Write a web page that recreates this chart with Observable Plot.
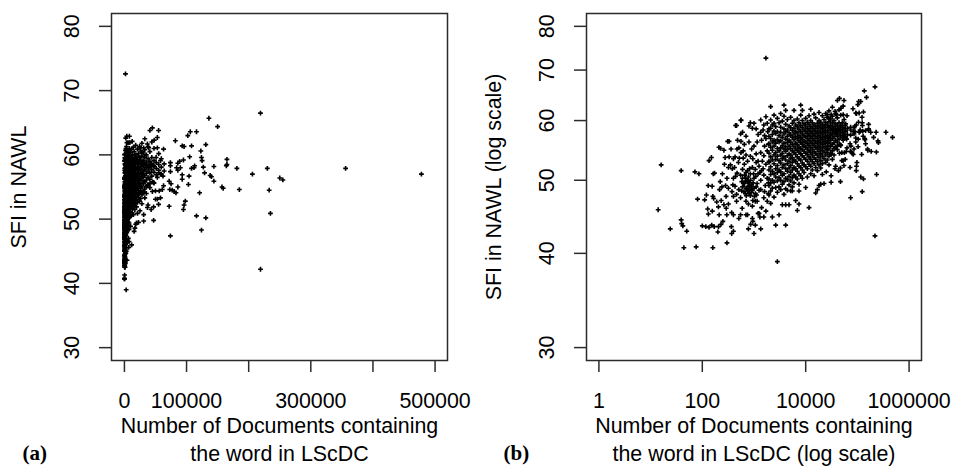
<!DOCTYPE html>
<html><head><meta charset="utf-8">
<script src="https://cdn.jsdelivr.net/npm/d3@7"></script>
<script src="https://cdn.jsdelivr.net/npm/@observablehq/plot@0.6"></script>
<style>
body{margin:0;background:#fff;}
#wrap{position:relative;width:953px;height:466px;overflow:hidden;background:#fff;}
#wrap svg{position:absolute;top:0;}
</style></head><body><div id="wrap"></div>
<script>
// ---- tick values and labels ----
const linTicks = [0, 100000, 200000, 300000, 400000, 500000];
const linLabels = [0, 100000, 300000, 500000];
const logTicks = [1, 100, 10000, 1000000];
const sfiTicks = [30, 40, 50, 60, 70, 80];
const xTitle = ["Number of Documents containing", "the word in LScDC"];
const xTitleLog = ["Number of Documents containing", "the word in LScDC (log scale)"];
const yTitle = "SFI in NAWL";
const yTitleLog = "SFI in NAWL (log scale)";

// ---- words: [documents in LScDC, SFI in NAWL] ----
const sparseWords = [[16,52.4],[14,45.7],[24,43.1],[39,51.5],[39,44.3],[40,43.8],[42,43.5],[50,42.8],[44,40.7],[72,51.3],[76,40.8],[86,51.0],[81,47.2],[111,47.1],[160,40.7],[300,41.3],[135,53.1],[150,53.6],[163,51.0],[172,51.1],[130,49.2],[160,47.6],[166,47.3],[127,45.8],[131,45.1],[156,45.5],[100,43.5],[117,43.4],[135,43.3],[152,43.6],[170,43.4],[200,42.7],[212,45.0],[250,44.1],[206,43.4],[230,43.7],[298,45.0],[205,46.1],[262,46.4],[290,45.9],[216,48.6],[282,49.2],[222,49.8],[155,49.1],[232,47.0],[288,47.6],[225,55.1],[262,54.8],[276,53.6],[245,51.0],[268,52.5],[210,55.3],[240,49.0],[190,46.8],[120,47.8]];

const midWords = [[300,50.3],[320,52.0],[310,56.3],[330,53.7],[330,56.3],[320,48.8],[375,48.3],[390,49.3],[370,45.3],[400,45.0],[320,46.5],[400,47.6],[460,47.9],[550,47.4],[700,46.9],[780,46.5],[950,47.0],[365,43.4],[400,42.8],[370,42.5],[510,44.5],[550,45.0],[780,43.1],[1000,42.5],[1350,43.1],[1060,43.6],[860,43.7],[950,44.1],[1300,44.7],[1550,44.7],[750,45.0],[930,44.5],[1250,45.2],[460,46.9],[590,45.9],[700,45.0],[440,59.1],[560,60.0],[550,57.6],[600,57.9],[400,53.4],[430,53.7],[560,54.4],[620,54.7],[470,55.0],[510,55.2],[400,50.3],[440,50.6],[470,51.1],[550,50.8],[600,50.3],[430,49.1],[510,48.6],[580,48.4],[700,48.8],[800,48.0],[850,47.7],[680,50.3],[750,49.8],[800,49.6],[930,46.2],[1060,46.9],[1150,46.9],[1550,47.4],[1800,46.9],[1060,48.0],[1350,48.6],[1600,48.3],[1900,48.0],[1000,50.3],[1150,49.5],[1350,50.0],[1550,50.8],[1800,50.3],[930,52.0],[1060,51.7],[1250,52.2],[1450,53.0],[1700,52.5],[1950,53.0],[750,53.0],[850,53.8],[950,53.4],[1350,54.4],[1550,53.9],[1800,54.7],[800,56.2],[1000,55.5],[1150,56.2],[1350,57.9],[1600,57.3],[1850,58.0],[800,59.0],[930,58.6],[1000,59.5],[1350,60.1],[1550,59.2],[1800,59.5],[1700,60.7],[460,59.1],[850,59.6],[560,60.1],[480,56.5],[560,56.3],[700,57.2],[360,55.0],[420,52.0],[500,52.8],[600,51.7],[650,52.5],[700,54.0],[650,55.8],[900,55.0],[1100,54.2],[1200,53.0],[750,51.5],[850,51.0],[900,49.3],[1250,48.5],[1100,52.8],[1300,51.2],[1500,51.8],[1650,49.2],[1900,49.6],[1400,46.0],[1700,45.5],[1200,45.2],[620,49.5],[680,48.0],[520,53.5],[620,53.5],[380,51.8],[350,52.4],[650,49.5],[720,48.7],[760,48.4],[820,49.2],[880,49.0],[920,48.5],[740,50.0],[780,50.5],[900,48.2],[1000,48.8],[1100,49.0],[1200,51.0],[1400,51.5],[1600,55.5],[1400,56.5],[1200,57.5],[1700,56.8],[1900,55.8],[1100,58.5],[1500,58.3],
[600,49.0],[640,48.3],[690,49.9],[710,47.7],[770,49.1],[830,48.6],[860,50.0],[960,49.6],[1020,47.6],[660,50.8],[580,49.8],[980,51.0],[1080,50.6],[1120,47.8],[820,51.8],[700,51.2]];

// columns of the dense core: [documents, [SFI values]]
const coreColumns = [
[1950,[58.5,57.2,55.9,54.3,52.8,51.6,50.2,49.2,47.8]],
[2100,[62.6,60.1,58.6,56.8,55.3,53.7,52.1,50.9,49.6,48.4,46.6]],
[2260,[59.2,57.5,56.2,54.8,53.2,51.4,50.0,48.8,44.7]],
[2440,[61.0,59.5,58.1,56.5,55.5,54.0,52.6,51.0,49.7,47.5]],
[2630,[58.9,57.7,56.0,54.4,53.3,51.8,50.5,48.9,43.6]],
[2830,[60.4,58.0,56.6,55.1,53.8,52.3,51.2,49.9,48.2,39.0]],
[3050,[59.6,57.3,56.2,54.7,53.1,51.6,50.4,49.0,45.0]],
[3280,[61.3,58.8,57.9,56.4,55.2,54.0,52.7,51.3,50.0,48.6]],
[3530,[59.9,57.0,55.6,54.3,53.4,52.0,50.8,49.4,46.4]],
[3800,[62.9,60.8,58.5,57.6,56.0,55.0,53.7,52.4,51.0,49.8,47.9]],
[4100,[61.9,59.3,58.0,56.7,55.4,54.6,53.2,51.8,50.3,48.7,46.4,43.6]],
[4420,[60.2,58.3,57.2,56.1,54.9,53.9,52.6,51.4,50.1,48.5]],
[4760,[59.0,57.8,56.5,55.5,54.2,53.0,51.9,50.6,49.3,46.4]],
[5120,[60.6,58.7,57.4,56.2,55.1,54.0,53.5,52.3,51.2,49.9,48.4]],
[5520,[59.5,58.2,57.0,55.8,54.7,53.6,52.8,51.6,50.4,49.0,48.4]],
[5940,[61.9,60.0,58.6,57.6,56.6,55.4,54.4,53.2,52.0,50.8,49.6]],
[6400,[59.2,58.0,57.1,56.0,55.0,54.1,53.0,51.8,50.5,47.0]],
[6890,[60.3,58.9,57.8,56.8,55.7,54.8,53.7,52.6,51.4,50.2,45.6]],
[7420,[59.6,58.4,57.3,56.4,55.3,54.5,53.4,52.2,51.0,49.4,48.4,46.5]],
[8000,[62.9,61.0,59.1,58.0,57.0,56.1,55.1,54.2,53.2,52.0,50.7]],
[8610,[61.9,60.0,58.7,57.6,56.7,55.8,54.9,53.9,52.7,51.6,50.3]],
[9280,[59.4,58.3,57.3,56.3,55.5,54.6,53.6,52.4,51.2]],
[10000,[60.4,59.0,58.0,57.1,56.2,55.3,54.3,53.3,52.1,48.9]],
[10770,[59.7,58.6,57.7,56.8,55.9,55.0,54.1,53.0,51.8,50.5]],
[11600,[60.9,59.3,58.3,57.4,56.5,55.6,54.7,53.7,52.5,46.0]],
[12490,[62.1,60.0,58.9,58.0,57.1,56.2,55.3,54.4,53.3,52.2,51.0]],
[13450,[59.6,58.6,57.7,56.8,55.9,55.0,54.0,52.9,51.6]],
[14490,[61.2,59.2,58.3,57.4,56.5,55.6,54.6,53.6,52.6,50.7]],
[15610,[60.5,58.9,58.0,57.1,56.2,55.3,54.3,53.3,52.0,48.1]],
[16810,[59.5,58.6,57.7,56.8,55.9,55.0,54.0,52.9,51.5,48.6]],
[18100,[61.5,60.0,59.1,58.2,57.3,56.4,55.5,54.6,53.6,52.4,49.2]],
[19500,[59.7,58.8,57.9,57.0,56.1,55.2,54.2,53.1,51.9,49.4]],
[21000,[60.9,59.3,58.5,57.6,56.7,55.8,54.8,53.8,52.6,50.9]],
[22620,[60.2,59.0,58.1,57.2,56.3,55.4,54.5,53.4,49.5]],
[24360,[61.3,59.6,58.7,57.8,56.9,56.0,55.1,54.0,52.8]]
];

const tailWords = [[219000,66.5],[356000,57.9],[478000,57.0],[219000,42.2],[136000,65.7],[150000,64.4],[255000,56.1],[250000,56.4],[230000,57.9],[233000,54.5],[235000,50.9],[185000,54.6],[206000,57.0],[181000,57.9],[165000,58.5],[164000,58.3],[165000,59.3],[157000,55.0],[159000,54.8],[144000,55.9],[140000,56.6],[138000,56.8],[131000,61.6],[123000,60.6],[124000,59.6],[125000,59.1],[127000,58.1],[129000,57.2],[144000,58.2],[121000,54.1],[131000,50.2],[124000,48.3],[116000,63.6],[106000,63.6],[102000,63.0],[93000,61.4],[108000,61.4],[96000,61.3],[105000,59.7],[112000,58.0],[113000,58.3],[104000,56.7],[103000,55.4],[108000,57.9],[93000,56.9],[90000,58.0],[89000,59.0],[95000,59.2],[84000,58.0],[98000,52.8],[96000,52.2],[95000,51.5],[116000,50.5],[93000,56.2],[86000,55.0],[82000,62.2],[74000,58.8],[73000,54.6],[72000,55.9],[75000,55.5],[80000,54.3],[83000,54.1],[77000,54.5],[72000,52.0],[74000,47.4],[63000,60.9],[55000,63.8],[53000,62.7],[48000,62.3],[45000,64.2],[53000,61.1],[58000,59.1],[55000,57.2],[58000,57.0],[47000,58.3],[51000,59.6],[62000,56.7],[53000,56.5],[63000,55.2],[56000,54.4],[47000,55.7],[45000,54.3],[50000,54.4],[61000,54.6],[53000,53.1],[55000,52.3],[58000,53.3],[47000,51.9],[50000,53.1],[47000,49.8],[37000,51.8],[38000,52.2],[31000,49.7],[43000,51.5],[31000,50.7],[25000,51.3],[37000,55.2],[41000,55.5],[45000,55.8],[26000,54.9],[31000,54.1],[28000,57.0],[39000,58.0],[42000,58.5],[34000,58.3],[28000,58.8],[26000,61.1],[31000,61.1],[37000,61.7],[39000,61.1],[28000,60.4]];

const tailColumns = [
[26200,[60.6,59.2,58.2,57.3,56.4,55.5,54.4,53.2]],
[28200,[61.8,59.8,58.8,57.8,56.9,56.0,55.0,53.8,52.4]],
[30500,[60.3,59.1,58.3,57.4,56.5,55.5,54.3]],
[32800,[62.5,60.8,59.6,58.6,57.7,56.8,55.8,54.7,53.3]],
[35300,[60.0,58.9,58.0,57.1,56.1,55.1,54.0]],
[38000,[61.3,59.4,58.5,57.5,56.5,55.4]],
[41000,[63.8,60.5,59.0,58.1,57.2,56.2,54.9]],
[44100,[62.0,59.6,58.6,57.7,56.7]],
[47600,[61.0,59.1,58.2,57.3,55.6]],
[51200,[58.8,57.9,56.9]],
[55200,[60.2,58.5,57.6]],
[59400,[59.4,58.1,57.0]],
[64000,[58.6,57.5]],
[74000,[58.3,57.4]],
[86000,[58.7,57.6]]
];

const outlierWords = [[1700,72.6]];

// ---- build table ----
const expand = cols => cols.flatMap(([d, vals]) => vals.map(v => [d, v]));
const words = [...sparseWords, ...midWords, ...expand(coreColumns), ...tailWords, ...expand(tailColumns), ...outlierWords];

const FONT = "'Liberation Sans', Arial, Helvetica, sans-serif";
const FS = 21.4;
const fmt = d3.format("d");
const INK = "#2b2b2b";

function panel({width, marginLeft, marginRight, x, xTicks, xFmt, yScale, xt, yt, tag}) {
  return Plot.plot({
    width, height: 466,
    marginLeft, marginRight, marginTop: 13, marginBottom: 106,
    style: {fontFamily: FONT, fontSize: FS + "px", color: "#000", background: "transparent", overflow: "visible"},
    x, y: yScale,
    marks: [
      Plot.frame({stroke: INK, strokeWidth: 1.5}),
      Plot.axisX(xTicks, {tickSize: 12, tickPadding: 20, tickFormat: xFmt, label: null, fontSize: FS, stroke: INK, strokeWidth: 1.5, fill: "#000"}),
      Plot.axisY(sfiTicks, {tickSize: 12, tickFormat: () => "", label: null, stroke: INK, strokeWidth: 1.5}),
      Plot.text(sfiTicks, {y: d => d, text: d => String(d), frameAnchor: "left", dx: -39, rotate: -90, textAnchor: "middle", lineAnchor: "middle", fontSize: FS, fill: "#000"}),
      Plot.dot(words, {x: d => d[0], y: d => d[1], symbol: "plus", r: 1.67, stroke: "#000", strokeWidth: 1.6}),
      Plot.text([xt[0]], {frameAnchor: "bottom", dy: 57, lineAnchor: "top", fontSize: FS, fill: "#000"}),
      Plot.text([xt[1]], {frameAnchor: "bottom", dy: 85, lineAnchor: "top", fontSize: FS, fill: "#000"}),
      Plot.text([yt], {frameAnchor: "left", dx: -92, rotate: -90, textAnchor: "middle", lineAnchor: "middle", fontSize: FS, fill: "#000"}),
      Plot.text([tag], {frameAnchor: "bottom-left", dx: tag === "(a)" ? -89 : -83, dy: 93, textAnchor: "start", lineAnchor: "middle", fontSize: 21, fontWeight: "bold", fontFamily: "'Liberation Serif', 'Times New Roman', serif", fill: "#000"})
    ]
  });
}

const left = panel({
  width: 480, marginLeft: 111, marginRight: 33,
  x: {domain: [-20800, 520000]},
  xTicks: linTicks,
  xFmt: d => linLabels.includes(d) ? fmt(d) : "",
  yScale: {domain: [28, 82]},
  xt: xTitle, yt: yTitle, tag: "(a)"
});
const right = panel({
  width: 473, marginLeft: 106, marginRight: 32,
  x: {type: "log", domain: [Math.pow(10, -0.24), Math.pow(10, 6.24)]},
  xTicks: logTicks,
  xFmt: d => fmt(d),
  yScale: {type: "log", domain: [28.84, 83.2]},
  xt: xTitleLog, yt: yTitleLog, tag: "(b)"
});
left.style.left = "0px";
right.style.left = "480px";
document.getElementById("wrap").append(left, right);
</script>
</body></html>
